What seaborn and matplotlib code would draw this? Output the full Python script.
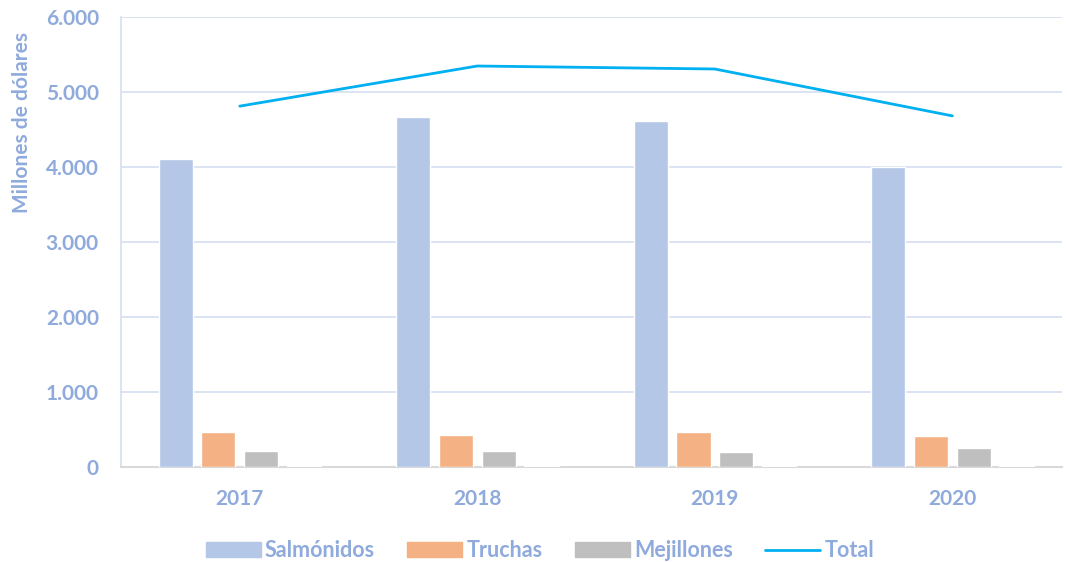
import pandas as pd
import matplotlib.pyplot as plt
import seaborn as sns
from matplotlib.patches import Patch
from matplotlib.lines import Line2D

years = ['2017', '2018', '2019', '2020']
salmonidos = [4110, 4670, 4615, 4000]
truchas = [465, 427, 467, 413]
mejillones = [213, 213, 200, 253]
otros = [20, 20, 18, 15]
total = [4810, 5345, 5305, 4680]

series = ['Salmónidos', 'Truchas', 'Mejillones', 'Otros']
colors = ['#B4C7E7', '#F4B183', '#BFBFBF', '#FFD966']
txt = '#8FAADC'

df = pd.DataFrame({
    'year': years * 4,
    'serie': [s for s in series for _ in years],
    'value': salmonidos + truchas + mejillones + otros,
})

sns.set_style('white')
plt.rcParams['font.family'] = ['Lato', 'DejaVu Sans']
plt.rcParams['font.weight'] = 'bold'

fig = plt.figure(figsize=(10.67, 5.62), dpi=100)
ax = fig.add_axes([0.1134, 0.169, 0.8816, 0.801])

sns.barplot(data=df, x='year', y='value', hue='serie', palette=colors, saturation=1,
            width=0.72, gap=0.2, ax=ax, legend=False, zorder=2.6)
sns.pointplot(x=years, y=total, color='#00B0F0', markers='', linestyles='-',
              linewidth=2, ax=ax, zorder=4)

ax.set_ylim(0, 6000)
ax.set_xlim(-0.5, 3.46)
ax.set_yticks(range(0, 6001, 1000))
ax.set_yticklabels(['0', '1.000', '2.000', '3.000', '4.000', '5.000', '6.000'])
ax.grid(axis='y', color='#D9E1F2', linewidth=1.3, zorder=0)
ax.set_axisbelow(True)
for s in ['top', 'right']:
    ax.spines[s].set_visible(False)
ax.spines['left'].set_color('#D9E1F2')
ax.spines['left'].set_linewidth(1.3)
ax.spines['bottom'].set_color('#D9D9D9')
ax.spines['bottom'].set_linewidth(1.5)
ax.tick_params(axis='both', length=0, labelsize=15, labelcolor=txt)
ax.tick_params(axis='y', pad=16)
ax.tick_params(axis='x', pad=16)
ax.set_xlabel('')
ax.set_ylabel('Millones de dólares', fontsize=15, fontweight='bold', color=txt)
ax.yaxis.set_label_coords(-0.095, 0.765)

handles = [Patch(color=colors[0]), Patch(color=colors[1]), Patch(color=colors[2]),
           Line2D([], [], color='#00B0F0', linewidth=2)]
labels = ['Salmónidos', 'Truchas', 'Mejillones', 'Total']
leg = fig.legend(handles, labels, loc='center', bbox_to_anchor=(0.506, 0.02), ncol=4,
                 frameon=False, fontsize=15.5, handlelength=2.55, handleheight=0.7,
                 columnspacing=1.5, handletextpad=0.2)
for t in leg.get_texts():
    t.set_color(txt)
    t.set_fontweight('bold')

fig.savefig('out.png', dpi=100)
